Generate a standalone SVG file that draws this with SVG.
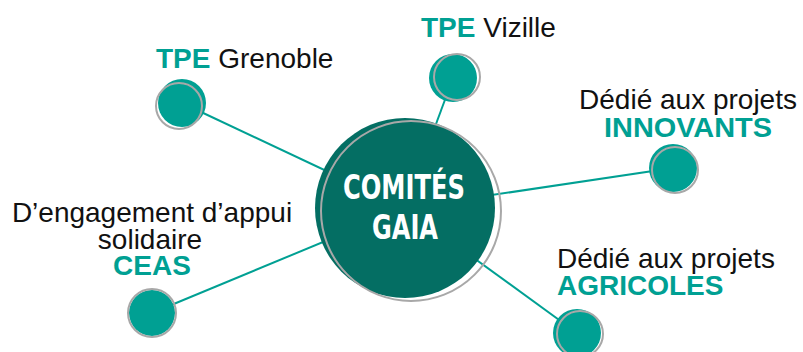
<svg xmlns="http://www.w3.org/2000/svg" width="803" height="352" viewBox="0 0 803 352">
<style>
.lbl{font-family:"Liberation Sans",Arial,sans-serif;font-size:28px;fill:#111}
.b{font-weight:bold;fill:#00A093}
.conn line{stroke:#00A093;stroke-width:2}
.dot{fill:#00A093}
.ring{fill:none;stroke:#A8A8A8;stroke-width:2}
.title{font-family:"DejaVu Sans Condensed","DejaVu Sans",sans-serif;font-weight:bold;font-size:33px;fill:#fff;font-stretch:condensed}
</style>
<rect width="803" height="352" fill="#fff"/>
<g id="connectors" class="conn">
<line x1="182" y1="103" x2="405" y2="208"/>
<line x1="453" y1="78" x2="405" y2="208"/>
<line x1="673" y1="168" x2="405" y2="208"/>
<line x1="577" y1="333" x2="405" y2="208"/>
<line x1="152" y1="313" x2="405" y2="208"/>
</g>
<g id="center">
<circle cx="405" cy="208" r="90" fill="#046E63"/>
<circle cx="411" cy="211" r="90" class="ring"/>
<text class="title" x="404" y="199" text-anchor="middle" textLength="122" lengthAdjust="spacingAndGlyphs">COMITÉS</text>
<text class="title" x="405" y="239" text-anchor="middle" textLength="66" lengthAdjust="spacingAndGlyphs">GAIA</text>
</g>
<g id="grenoble">
<circle class="dot" cx="182" cy="103" r="24"/>
<circle class="ring" cx="179" cy="106" r="23"/>
<text class="lbl" x="156" y="68"><tspan class="b">TPE</tspan> Grenoble</text>
</g>
<g id="vizille">
<circle class="dot" cx="453" cy="78" r="24"/>
<circle class="ring" cx="457" cy="77" r="23"/>
<text class="lbl" x="421" y="37"><tspan class="b">TPE</tspan> Vizille</text>
</g>
<g id="innovants">
<circle class="dot" cx="673" cy="168" r="24"/>
<circle class="ring" cx="675" cy="170" r="23"/>
<text class="lbl" x="688" y="109" text-anchor="middle">Dédié aux projets</text>
<text class="lbl b" x="688" y="137" text-anchor="middle" textLength="168" lengthAdjust="spacingAndGlyphs">INNOVANTS</text>
</g>
<g id="agricoles">
<circle class="dot" cx="577" cy="333" r="24"/>
<circle class="ring" cx="580" cy="334" r="23"/>
<text class="lbl" x="557" y="268">Dédié aux projets</text>
<text class="lbl b" x="557" y="295">AGRICOLES</text>
</g>
<g id="ceas">
<circle class="dot" cx="152" cy="313" r="23"/>
<circle class="ring" cx="152" cy="313" r="24"/>
<text class="lbl" x="152" y="222" text-anchor="middle">D’engagement d’appui</text>
<text class="lbl" x="150" y="249" text-anchor="middle">solidaire</text>
<text class="lbl b" x="152" y="275" text-anchor="middle">CEAS</text>
</g>
</svg>
